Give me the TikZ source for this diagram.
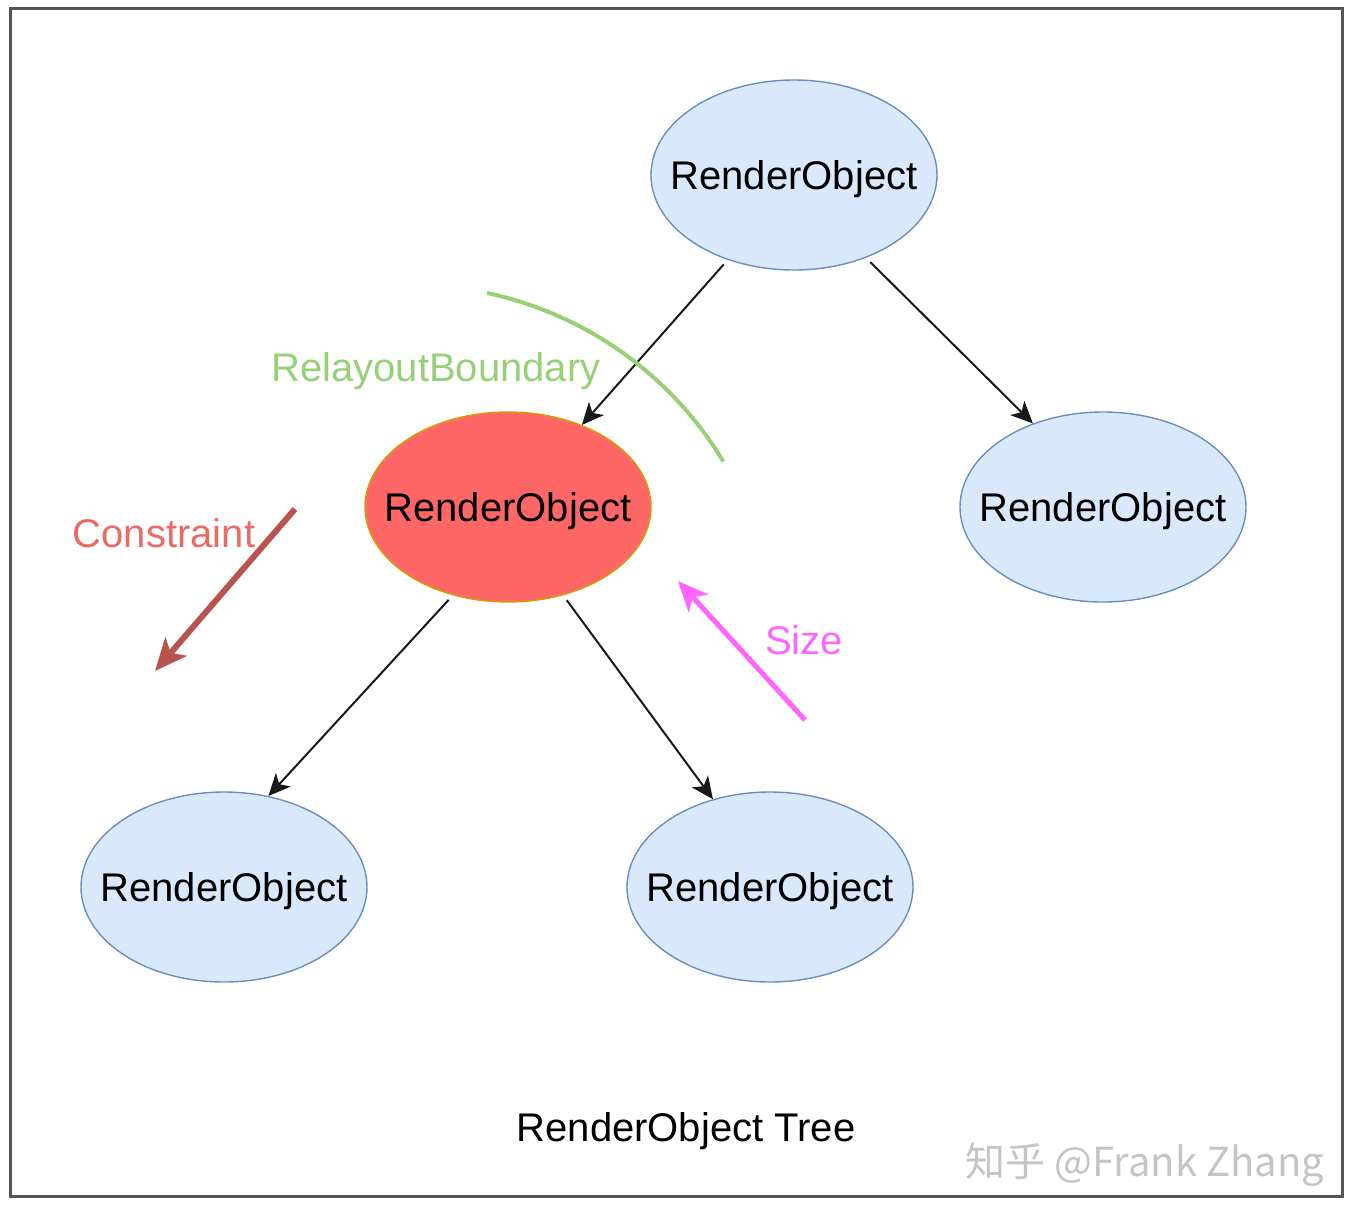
\documentclass[tikz,border=0pt]{standalone}
\usepackage{fontspec}
\setmainfont{Liberation Sans}
\newfontfamily\cjk{Noto Sans CJK SC}
\usetikzlibrary{arrows.meta,shapes.geometric,positioning}
\definecolor{roFill}{HTML}{DAE8FC}
\definecolor{roLine}{HTML}{6C8EBF}
\definecolor{redFill}{HTML}{FF6666}
\definecolor{redLine}{HTML}{D79B00}
\definecolor{boundGreen}{HTML}{97D077}
\definecolor{constrRed}{HTML}{B85450}
\definecolor{constrText}{HTML}{EA6B66}
\definecolor{sizePink}{HTML}{FF66FF}
\definecolor{frameGray}{HTML}{555555}
\definecolor{markGray}{HTML}{C4C4C4}

\begin{document}
\begin{tikzpicture}
[x=0.5pt,y=0.5pt,
RO/.style={ellipse,draw=roLine,fill=roFill,line width=0.7pt,inner xsep=-14pt,inner ysep=0pt,
  minimum width=143pt,minimum height=95pt,text depth=0pt,font=\fontsize{20}{24}\selectfont},
ROred/.style={RO,draw=redLine,fill=redFill},
lbl/.style={font=\fontsize{20}{24}\selectfont,inner sep=0pt,text depth=0pt},
tedge/.style={line width=1pt,black!90,shorten <=3pt,-{Stealth[length=11pt,width=10pt,inset=3pt]}},
flow/.style={line width=#1,-{Stealth[length=16pt,width=14pt,inset=4pt]}}]
\useasboundingbox (0,0) rectangle (1356,-1206);
%%
\draw[frameGray,line width=1.5pt] (10,-8) rectangle (1342,-1196);
%%
%%%%%%%%%%%%%%%%%%
% Tree nodes
%%%%%%%%%%%%%%%%%%
\node[RO] (root) at (794,-175) {RenderObject};
\node[ROred] (mid) at (508,-507) {RenderObject};
\node[RO] (right) at (1103,-507) {RenderObject};
\node[RO] (leftleaf) at (224,-887) {RenderObject};
\node[RO] (rightleaf) at (770,-887) {RenderObject};
%%
\draw[tedge] (root.-128) -- (mid.48);
\draw[tedge] (root.-49) -- (right.130);
\draw[tedge] (mid.-122) -- (leftleaf.64);
\draw[tedge] (mid.-58) -- (rightleaf.123);
%%
%%%%%%%%%%%%%%%%%%
% Relayout boundary
%%%%%%%%%%%%%%%%%%
\draw[boundGreen,line width=2pt] (487,-293) arc[start angle=78,end angle=31,radius=182pt];
\node[lbl,text=boundGreen] (boundary) at (436,-367) {RelayoutBoundary};
%%
%%%%%%%%%%%%%%%%%%
% Constraint and size
%%%%%%%%%%%%%%%%%%
\coordinate (cfrom) at (295,-509);
\coordinate (cto) at (155,-671);
\draw[flow=3pt,constrRed] (cfrom) -- (cto);
\node[lbl,text=constrText] (constraint) at (164,-533) {Constraint};
%%
\coordinate (sfrom) at (805,-720);
\coordinate (sto) at (678,-581);
\draw[flow=2.5pt,sizePink,-{Stealth[length=15pt,width=13pt,inset=4pt]}] (sfrom) -- (sto);
\node[lbl,text=sizePink] (size) at (804,-640) {Size};
%%
\node[lbl] (title) at (686,-1127) {RenderObject Tree};
\node[lbl,text=markGray,font=\cjk\fontsize{20}{24}\selectfont] (mark) at (1145,-1160) {知乎 @Frank Zhang};
\end{tikzpicture}
\end{document}
